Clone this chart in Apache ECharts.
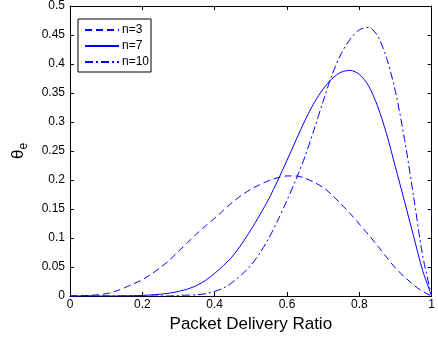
<!DOCTYPE html>
<html>
<head>
<meta charset="utf-8">
<script src="https://cdn.jsdelivr.net/npm/echarts@6/dist/echarts.min.js"></script>
<style>
  html, body { margin: 0; padding: 0; background: #fff; }
  #chart { width: 438px; height: 341px; }
</style>
</head>
<body>
<div id="chart"></div>
<script>
// values, x step 0.025
const ratio = [0, 0.025, 0.05, 0.075, 0.1, 0.125, 0.15, 0.175, 0.2, 0.225, 0.25, 0.275, 0.3, 0.325, 0.35, 0.375, 0.4, 0.425, 0.45, 0.475, 0.5, 0.525, 0.55, 0.575, 0.6, 0.625, 0.65, 0.675, 0.7, 0.725, 0.75, 0.775, 0.8, 0.825, 0.85, 0.875, 0.9, 0.925, 0.95, 0.975, 1];
const thetaN3 = [0, 0.0002, 0.001, 0.002, 0.004, 0.008, 0.014, 0.021, 0.028, 0.038, 0.049, 0.062, 0.077, 0.092, 0.107, 0.121, 0.134, 0.148, 0.162, 0.174, 0.184, 0.192, 0.199, 0.204, 0.207, 0.207, 0.203, 0.196, 0.187, 0.174, 0.158, 0.142, 0.124, 0.106, 0.087, 0.067, 0.048, 0.033, 0.019, 0.008, 0];
const thetaN7 = [0, 0, 0, 0, 0, 0, 0.0003, 0.0006, 0.001, 0.002, 0.003, 0.005, 0.008, 0.012, 0.018, 0.027, 0.039, 0.053, 0.069, 0.09, 0.114, 0.14, 0.168, 0.2, 0.234, 0.269, 0.303, 0.333, 0.357, 0.375, 0.386, 0.389, 0.382, 0.363, 0.328, 0.28, 0.222, 0.163, 0.103, 0.044, 0];
const thetaN10 = [0, 0, 0, 0, 0, 0, 0, 0, 0, 0, 0, 0, 0.001, 0.0015, 0.002, 0.004, 0.008, 0.014, 0.024, 0.037, 0.053, 0.074, 0.1, 0.131, 0.165, 0.201, 0.241, 0.287, 0.336, 0.382, 0.418, 0.443, 0.459, 0.463, 0.449, 0.411, 0.352, 0.27, 0.172, 0.07, 0];
const seriesNames = ['n=3', 'n=7', 'n=10'];
const xTicks = [0, 0.2, 0.4, 0.6, 0.8, 1];

const blue = '#0000ff';
const font = 'Liberation Sans, Arial, Helvetica, sans-serif';

const pairs = (ys) => ratio.map((x, i) => [x, ys[i]]);

const chart = echarts.init(document.getElementById('chart'));

const axisBase = {
  type: 'value',
  axisLine: { show: true, onZero: false, lineStyle: { color: '#000', width: 1 } },
  axisTick: { show: true, inside: true, length: 4, lineStyle: { color: '#000' } },
  splitLine: { show: false },
};

chart.setOption({
  animation: false,
  backgroundColor: '#fff',
  grid: { left: 63, right: 5, top: 4, bottom: 45 },
  legend: {
    orient: 'vertical',
    left: 78,
    top: 19,
    padding: [5, 2, 4, 6],
    itemWidth: 34,
    itemHeight: 12,
    itemGap: 4,
    borderColor: '#000',
    borderWidth: 1,
    backgroundColor: '#fff',
    itemStyle: { opacity: 0 },
    textStyle: { fontFamily: font, fontSize: 12, color: '#000', padding: [0, 0, 0, -2] },
    data: seriesNames,
  },
  xAxis: [
    {
      ...axisBase,
      position: 'bottom',
      min: 0,
      max: 1,
      interval: 0.2,
      name: 'Packet Delivery Ratio',
      nameLocation: 'middle',
      nameGap: 20,
      nameTextStyle: { fontFamily: font, fontSize: 17, color: '#000' },
      axisLabel: {
        margin: 3,
        fontFamily: font,
        fontSize: 12,
        color: '#000',
        formatter: (v) => (xTicks.includes(+v.toFixed(1)) ? String(+v.toFixed(1)) : ''),
      },
    },
    {
      ...axisBase,
      position: 'top',
      min: 0,
      max: 1,
      interval: 0.2,
      axisLabel: { show: false },
    },
  ],
  yAxis: [
    {
      ...axisBase,
      position: 'left',
      min: 0,
      max: 0.5,
      interval: 0.05,
      name: '{t|θ}{s|e}',
      nameLocation: 'middle',
      nameGap: 40,
      nameRotate: 90,
      nameTextStyle: {
        color: '#000',
        rich: {
          t: { fontFamily: font, fontSize: 17, color: '#000', lineHeight: 24, verticalAlign: 'middle' },
          s: { fontFamily: font, fontSize: 12, color: '#000', lineHeight: 24, verticalAlign: 'bottom', padding: [10, 0, 0, 0] },
        },
      },
      axisLabel: {
        margin: 5,
        fontFamily: font,
        fontSize: 12,
        color: '#000',
        formatter: (v) => String(+v.toFixed(2)),
      },
    },
    {
      ...axisBase,
      position: 'right',
      min: 0,
      max: 0.5,
      interval: 0.05,
      axisLabel: { show: false },
    },
  ],
  series: [
    {
      name: seriesNames[0],
      type: 'line',
      data: pairs(thetaN3),
      smooth: 0.3,
      symbol: 'none',
      color: blue,
      lineStyle: { color: blue, width: 1, type: [7, 4] },
    },
    {
      name: seriesNames[1],
      type: 'line',
      data: pairs(thetaN7),
      smooth: 0.3,
      symbol: 'none',
      color: blue,
      lineStyle: { color: blue, width: 1, type: 'solid' },
    },
    {
      name: seriesNames[2],
      type: 'line',
      data: pairs(thetaN10),
      smooth: 0.3,
      symbol: 'none',
      color: blue,
      lineStyle: { color: blue, width: 1, type: [8, 3, 2, 3] },
    },
  ],
});
</script>
</body>
</html>
